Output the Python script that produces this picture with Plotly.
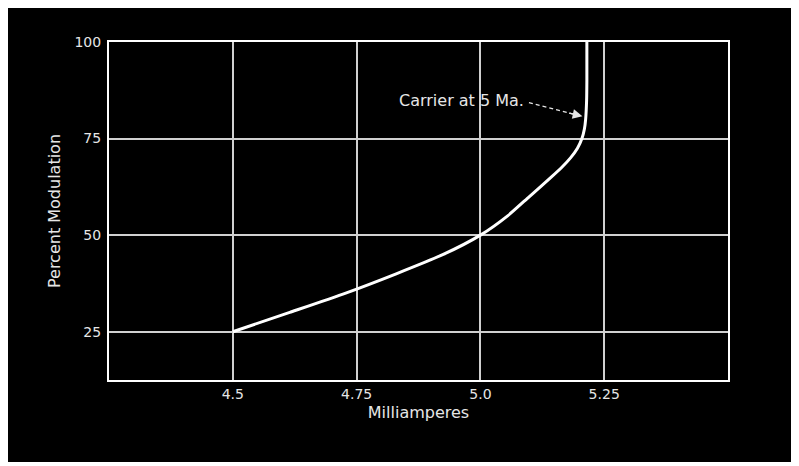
import plotly.graph_objects as go

milliamperes = [4.5, 4.615, 4.728, 4.83, 4.925, 5.0, 5.055, 5.099, 5.143, 5.164, 5.182, 5.196, 5.205, 5.210, 5.2125, 5.2145, 5.215, 5.215]
percent_mod = [25, 30, 35, 40, 45, 50, 55, 60, 65, 67.5, 70, 72.5, 75, 77.5, 80, 85, 90, 100]

x_tickvals = [4.5, 4.75, 5.0, 5.25]
x_ticktext = ["4.5", "4.75", "5.0", "5.25"]
y_tickvals = [25, 50, 75, 100]
y_ticktext = ["25", "50", "75", "100"]

annot_text = "Carrier at 5 Ma."
annot_text_pos = (5.093, 84.8)
arrow_start = (5.098, 84.3)
arrow_tip = (5.206, 80.8)

FONT = "DejaVu Sans"
TXT = "#e6e6e6"

fig = go.Figure()
fig.add_trace(go.Scatter(
    x=milliamperes, y=percent_mod, mode="lines",
    line=dict(color="white", width=3, shape="spline", smoothing=0.6),
    showlegend=False, hoverinfo="skip",
))

# black photo frame
fig.add_shape(type="rect", xref="paper", yref="paper",
              x0=-0.1632, x1=1.1082, y0=-0.2426, y1=1.11,
              fillcolor="black", line=dict(width=0), layer="below")

# dashed leader line
fig.add_shape(type="line", xref="x", yref="y",
              x0=arrow_start[0], y0=arrow_start[1],
              x1=arrow_tip[0] - 0.015, y1=arrow_tip[1] + 0.45,
              line=dict(color=TXT, width=1.3, dash="4px,3px"))

fig.add_annotation(x=arrow_tip[0], y=arrow_tip[1], ax=arrow_tip[0] - 0.03, ay=arrow_tip[1] + 0.85,
                   axref="x", ayref="y", xref="x", yref="y", text="",
                   showarrow=True, arrowhead=2, arrowsize=1.5, arrowwidth=1.3,
                   arrowcolor=TXT)

fig.add_annotation(x=annot_text_pos[0], y=annot_text_pos[1], xref="x", yref="y",
                   text=annot_text, showarrow=False, xanchor="right", yanchor="middle",
                   font=dict(family=FONT, size=16, color=TXT))

fig.update_layout(
    width=791, height=458,
    margin=dict(l=101, r=71, t=34, b=86),
    paper_bgcolor="white", plot_bgcolor="black",
    font=dict(family=FONT, size=14, color=TXT),
    xaxis=dict(range=[4.25, 5.5], tickvals=x_tickvals, ticktext=x_ticktext,
               showgrid=True, gridcolor="#d0d0d0", gridwidth=1.5,
               showline=True, linecolor="white", linewidth=2, mirror=True,
               zeroline=False, ticks="",
               title=dict(text="Milliamperes", standoff=6,
                          font=dict(family=FONT, size=16, color=TXT)),
               tickfont=dict(family=FONT, size=14, color=TXT)),
    yaxis=dict(range=[12.5, 100], tickvals=y_tickvals, ticktext=y_ticktext,
               showgrid=True, gridcolor="#d0d0d0", gridwidth=1.5,
               showline=True, linecolor="white", linewidth=2, mirror=True,
               zeroline=False, ticks="", ticklabelstandoff=3,
               title=dict(text="Percent Modulation", standoff=10,
                          font=dict(family=FONT, size=16, color=TXT)),
               tickfont=dict(family=FONT, size=14, color=TXT)),
)

fig.write_html("out.html")
